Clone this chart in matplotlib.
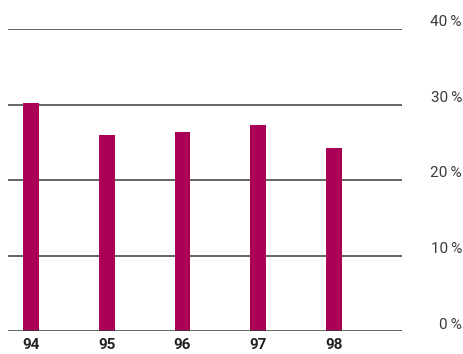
import matplotlib
matplotlib.use("Agg")
import matplotlib.pyplot as plt

years = ["94", "95", "96", "97", "98"]
values = [30.2, 26.0, 26.4, 27.3, 24.2]
y_ticks = [0, 10, 20, 30, 40]
y_labels = ["0\u2009%", "10\u2009%", "20\u2009%", "30\u2009%", "40\u2009%"]

W, H = 463, 354
fig = plt.figure(figsize=(W / 100, H / 100), dpi=100)
ax = fig.add_axes([8 / W, (H - 331.3) / H, (402 - 8) / W, (331.3 - 29) / H])

bar_color = "#AA0055"
x = list(range(len(years)))
ax.bar(x, values, width=0.21, color=bar_color, zorder=2)

for t, lab in zip(y_ticks, y_labels):
    ax.axhline(t, color="#3a3a3a", lw=1.1, zorder=3 if t == 0 else 1)
    ax.annotate(lab, xy=(462 / W, t), xycoords=("figure fraction", "data"),
                xytext=(0, 2), textcoords="offset points", ha="right", va="baseline",
                fontsize=11, color="#3a3a3a", family=["Roboto", "DejaVu Sans"],
                annotation_clip=False)

ax.set_xlim(-0.304, 4.898)
ax.set_ylim(0, 40)
ax.set_xticks(x)
ax.set_xticklabels(years, fontsize=11, fontweight="bold", family="Roboto", color="#222222")
ax.tick_params(axis="x", length=0, pad=5)
ax.set_yticks([])
for s in ax.spines.values():
    s.set_visible(False)

fig.savefig("out.png", dpi=100)
